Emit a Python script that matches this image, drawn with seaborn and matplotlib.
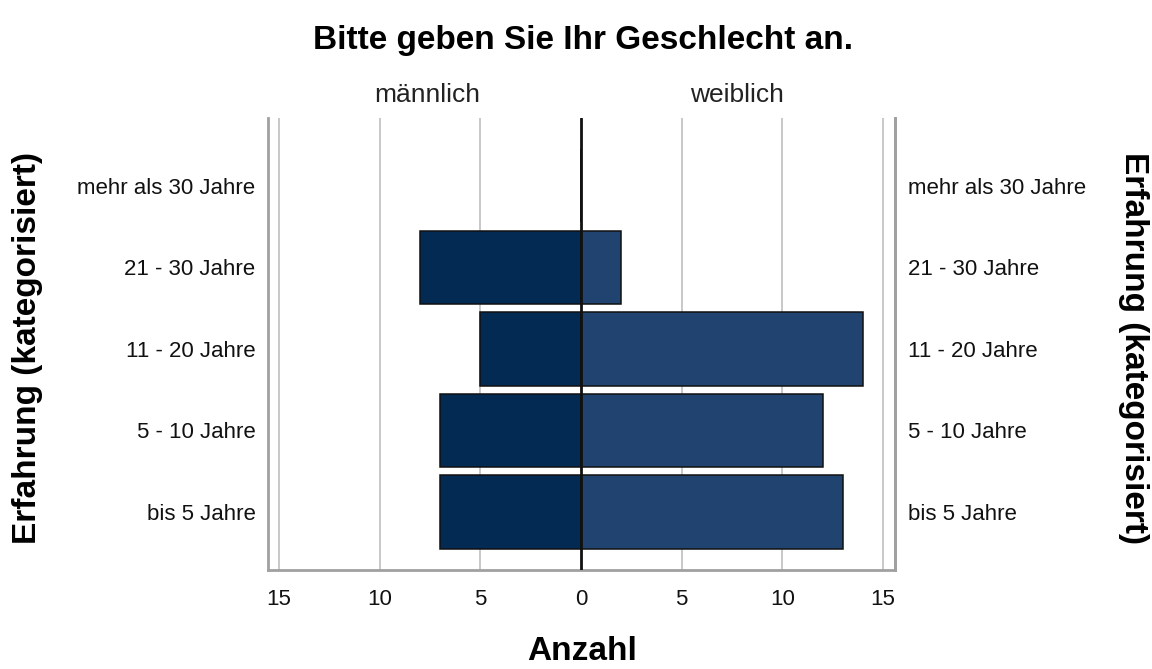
import matplotlib
matplotlib.use("Agg")
import matplotlib.pyplot as plt
import seaborn as sns
import pandas as pd

# Experience categories, top to bottom
categories = ["mehr als 30 Jahre", "21 - 30 Jahre", "11 - 20 Jahre", "5 - 10 Jahre", "bis 5 Jahre"]
maennlich = [0, 8, 5, 7, 7]
weiblich = [0, 2, 14, 12, 13]
x_ticks = [-15, -10, -5, 0, 5, 10, 15]
x_ticklabels = ["15", "10", "5", "0", "5", "10", "15"]

sns.set_style("white")
plt.rcParams["font.family"] = ["Liberation Sans", "DejaVu Sans"]
plt.rcParams["text.color"] = "#000000"

df = pd.DataFrame({
    "Erfahrung": categories * 2,
    "Anzahl": [-v for v in maennlich] + weiblich,
    "Geschlecht": ["männlich"] * len(categories) + ["weiblich"] * len(categories),
})

fig = plt.figure(figsize=(11.52, 6.69), dpi=100)
ax = fig.add_axes([268 / 1152, 1 - 570 / 669, (895 - 268) / 1152, (570 - 118) / 669])

# Light vertical grid lines behind the bars
for v in [-15, -10, -5, 5, 10, 15]:
    ax.axvline(v, color="#c8c8c8", lw=1.4, zorder=0)

sns.barplot(data=df, x="Anzahl", y="Erfahrung", hue="Geschlecht",
            order=categories, hue_order=["männlich", "weiblich"],
            palette={"männlich": "#022a53", "weiblich": "#20446f"},
            saturation=1, orient="h", width=0.9, dodge=False, legend=False,
            edgecolor="#111111", linewidth=1.1, ax=ax, zorder=2)

ax.axvline(0, color="#111111", lw=2.0, zorder=3)

ax.set_xlim(-15.55, 15.6)
ax.set_ylim(4.71, -0.83)

ax.set_xticks(x_ticks, labels=x_ticklabels)
ax.tick_params(axis="x", length=0, pad=14, labelsize=16, colors="#111111")
ax.tick_params(axis="y", length=0, pad=9, labelsize=16, colors="#111111")
ax.set_xlabel("")
ax.set_ylabel("")

for side in ["left", "right", "bottom"]:
    ax.spines[side].set_visible(True)
    ax.spines[side].set_color("#a0a0a0")
    ax.spines[side].set_linewidth(2)
ax.spines["top"].set_visible(False)

# Category labels repeated on the right side
sec = ax.secondary_yaxis("right")
sec.set_yticks(range(len(categories)), labels=categories)
sec.tick_params(length=0, pad=9, labelsize=16, colors="#111111")
sec.spines["right"].set_color("#a0a0a0")
sec.spines["right"].set_linewidth(2)

# Panel headers
ax.text(-7.65, 1.05, "männlich", transform=ax.get_xaxis_transform(),
        ha="center", va="center", fontsize=19, color="#222222")
ax.text(7.75, 1.05, "weiblich", transform=ax.get_xaxis_transform(),
        ha="center", va="center", fontsize=19, color="#222222")

fig.text(583 / 1152, 1 - 40 / 669, "Bitte geben Sie Ihr Geschlecht an.",
         ha="center", va="center", fontsize=24, fontweight="bold")
fig.text(582 / 1152, 1 - 651 / 669, "Anzahl",
         ha="center", va="center", fontsize=24, fontweight="bold")
fig.text(28 / 1152, 1 - 348 / 669, "Erfahrung (kategorisiert)",
         ha="center", va="center", rotation=90, fontsize=24, fontweight="bold")
fig.text(1133 / 1152, 1 - 348 / 669, "Erfahrung (kategorisiert)",
         ha="center", va="center", rotation=-90, fontsize=24, fontweight="bold")

fig.savefig("out.png", dpi=100, facecolor="white")
